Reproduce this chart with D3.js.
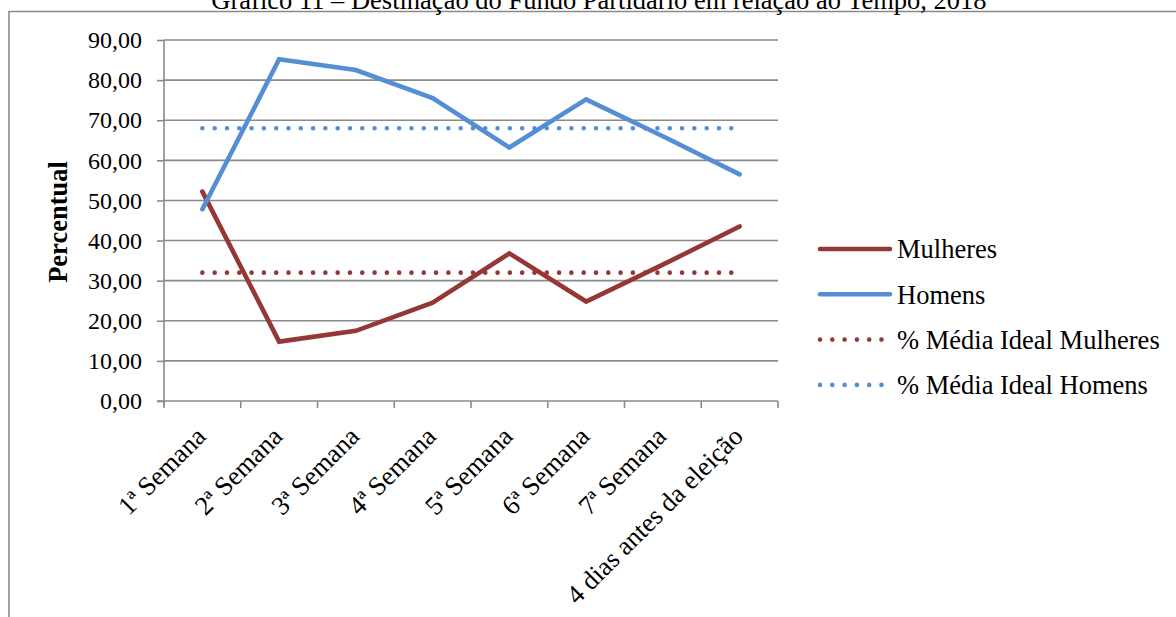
<!DOCTYPE html>
<html>
<head>
<meta charset="utf-8">
<script src="https://cdn.jsdelivr.net/npm/d3@7"></script>
<style>
  html, body { margin: 0; padding: 0; background: #fff; }
  svg { display: block; font-family: "Liberation Serif", "Times New Roman", serif; }
</style>
</head>
<body>
<svg id="chart" width="1176" height="617"></svg>
<script>
// Weekly share of party fund by gender, 2018 campaign
const categories = ["1ª Semana", "2ª Semana", "3ª Semana", "4ª Semana",
                    "5ª Semana", "6ª Semana", "7ª Semana", "4 dias antes da eleição"];
const mulheres = [52.2, 14.8, 17.5, 24.5, 36.8, 24.8, 34.0, 43.5];
const homens   = [47.8, 85.2, 82.5, 75.5, 63.2, 75.2, 66.0, 56.5];
const mediaIdealMulheres = [32, 32, 32, 32, 32, 32, 32, 32];
const mediaIdealHomens   = [68, 68, 68, 68, 68, 68, 68, 68];
const yTicks = [0, 10, 20, 30, 40, 50, 60, 70, 80, 90];
const title = "Gráfico 11 – Destinação do Fundo Partidário em relação ao Tempo, 2018";
const yTitle = "Percentual";

const series = [
  { name: "Mulheres", values: mulheres, color: "#953735", dotted: false },
  { name: "Homens", values: homens, color: "#558ed5", dotted: false },
  { name: "% Média Ideal Mulheres", values: mediaIdealMulheres, color: "#953735", dotted: true },
  { name: "% Média Ideal Homens", values: mediaIdealHomens, color: "#558ed5", dotted: true }
];

const svg = d3.select("#chart");
const plot = { left: 164, right: 778, top: 40, bottom: 401 };
const gridColor = "#8a8a8a";
const tickFont = 24;
const textFont = 26.5;

const ptBR = d3.formatLocale({ decimal: ",", thousands: ".", grouping: [3], currency: ["R$", ""] });
const fmt = ptBR.format(".2f");

const x = d3.scaleBand().domain(categories).range([plot.left, plot.right]).padding(0);
const cx = d => x(d) + x.bandwidth() / 2;
const y = d3.scaleLinear().domain([0, 90]).range([plot.bottom, plot.top]);

// outer frame
svg.append("path")
  .attr("d", `M9,${617 + 5} L9,11.5 L1180,11.5`)
  .attr("fill", "none").attr("stroke", gridColor).attr("stroke-width", 1.6);

// title (runs off the top of the frame)
svg.append("text")
  .attr("x", 599).attr("y", 8.5)
  .attr("text-anchor", "middle")
  .attr("font-size", textFont)
  .text(title);

// horizontal gridlines
svg.append("g").selectAll("line").data(yTicks.filter(v => v > 0)).join("line")
  .attr("x1", plot.left).attr("x2", plot.right)
  .attr("y1", d => y(d)).attr("y2", d => y(d))
  .attr("stroke", gridColor).attr("stroke-width", 1.6);

// y axis
const yAxis = svg.append("g")
  .attr("transform", `translate(${plot.left},0)`)
  .call(d3.axisLeft(y).tickValues(yTicks).tickFormat(fmt).tickSize(7).tickPadding(15));
yAxis.select(".domain").attr("stroke", gridColor).attr("stroke-width", 1.6)
  .attr("d", `M0,${plot.top}V${plot.bottom + 4}`);
yAxis.selectAll(".tick line").attr("stroke", gridColor).attr("stroke-width", 1.6);
yAxis.selectAll(".tick text")
  .attr("font-family", "Liberation Serif").attr("font-size", tickFont).attr("fill", "#000");

// x axis with boundary ticks between categories
const xAxis = svg.append("g").attr("transform", `translate(0,${plot.bottom})`);
xAxis.append("line")
  .attr("x1", plot.left - 7).attr("x2", plot.right)
  .attr("stroke", gridColor).attr("stroke-width", 1.6);
const boundaries = categories.map(c => x(c)).concat([plot.right]);
xAxis.selectAll("line.tk").data(boundaries).join("line").attr("class", "tk")
  .attr("x1", d => d).attr("x2", d => d).attr("y1", 0).attr("y2", 7)
  .attr("stroke", gridColor).attr("stroke-width", 1.6);
xAxis.selectAll("text").data(categories).join("text")
  .attr("transform", d => `translate(${cx(d) + 5},${37}) rotate(-45)`)
  .attr("text-anchor", "end")
  .attr("font-size", textFont)
  .attr("fill", "#000")
  .text(d => d);

// y-axis title
svg.append("text")
  .attr("transform", `translate(67,222) rotate(-90)`)
  .attr("text-anchor", "middle")
  .attr("font-size", textFont)
  .attr("font-weight", "bold")
  .text(yTitle);

// series lines: dotted reference lines first, solid series on top
const line = d3.line().x((d, i) => cx(categories[i])).y(d => y(d));
const drawOrder = series.filter(s => s.dotted).concat(series.filter(s => !s.dotted));
svg.append("g").selectAll("path").data(drawOrder).join("path")
  .attr("d", s => line(s.values))
  .attr("fill", "none")
  .attr("stroke", s => s.color)
  .attr("stroke-width", 4.6)
  .attr("stroke-linecap", "round")
  .attr("stroke-linejoin", s => s.dotted ? "round" : "miter")
  .attr("stroke-dasharray", s => s.dotted ? "0 12.3" : null);

// legend
const legend = svg.append("g").attr("transform", "translate(820,249)");
const items = legend.selectAll("g").data(series).join("g")
  .attr("transform", (s, i) => `translate(0,${i * 45.3})`);
items.append("line")
  .attr("x1", 0).attr("x2", 70).attr("y1", 0).attr("y2", 0)
  .attr("stroke", s => s.color).attr("stroke-width", 4.6)
  .attr("stroke-linecap", "round")
  .attr("stroke-dasharray", s => s.dotted ? "0 12.3" : null);
items.append("text")
  .attr("x", 77).attr("y", 0).attr("dy", "0.35em")
  .attr("font-size", textFont)
  .text(s => s.name);
</script>
</body>
</html>
